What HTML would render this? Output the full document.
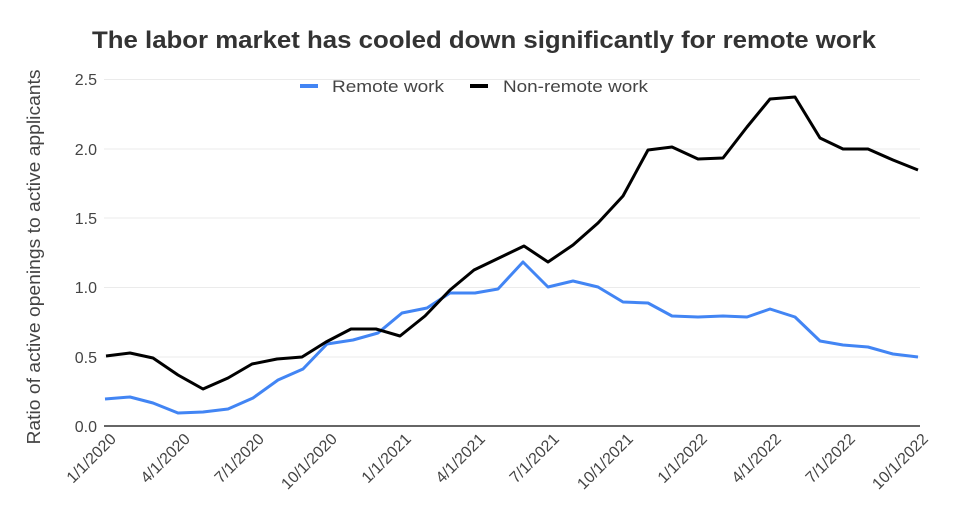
<!DOCTYPE html>
<html><head><meta charset="utf-8"><style>body{margin:0;background:#fff}svg{display:block}text{font-family:"Liberation Sans",Arial,sans-serif}</style></head>
<body>
<svg width="959" height="513" viewBox="0 0 959 513">
<text x="92" y="48" font-size="24" font-weight="bold" fill="#333" textLength="784" lengthAdjust="spacingAndGlyphs">The labor market has cooled down significantly for remote work</text>
<g stroke="#ebebeb" stroke-width="1">
<line x1="104" x2="920" y1="357" y2="357"/><line x1="104" x2="920" y1="287.5" y2="287.5"/><line x1="104" x2="920" y1="218" y2="218"/><line x1="104" x2="920" y1="149" y2="149"/><line x1="104" x2="920" y1="79.5" y2="79.5"/>
</g>
<line x1="104" x2="920" y1="426" y2="426" stroke="#333" stroke-width="1.5"/>
<g font-size="16" fill="#444" text-anchor="end">
<text x="97" y="432">0.0</text><text x="97" y="363">0.5</text><text x="97" y="293">1.0</text><text x="97" y="224">1.5</text><text x="97" y="155">2.0</text><text x="97" y="85">2.5</text>
</g>
<text transform="translate(40,257) rotate(-90)" text-anchor="middle" font-size="18" fill="#444" textLength="375" lengthAdjust="spacingAndGlyphs">Ratio of active openings to active applicants</text>
<g font-size="16" fill="#444" text-anchor="end">
<text transform="translate(117,440) rotate(-45)">1/1/2020</text>
<text transform="translate(191,440) rotate(-45)">4/1/2020</text>
<text transform="translate(265,440) rotate(-45)">7/1/2020</text>
<text transform="translate(338,440) rotate(-45)">10/1/2020</text>
<text transform="translate(412,440) rotate(-45)">1/1/2021</text>
<text transform="translate(486,440) rotate(-45)">4/1/2021</text>
<text transform="translate(560,440) rotate(-45)">7/1/2021</text>
<text transform="translate(634,440) rotate(-45)">10/1/2021</text>
<text transform="translate(708,440) rotate(-45)">1/1/2022</text>
<text transform="translate(782,440) rotate(-45)">4/1/2022</text>
<text transform="translate(856,440) rotate(-45)">7/1/2022</text>
<text transform="translate(929,440) rotate(-45)">10/1/2022</text>
</g>
<line x1="300" x2="318" y1="86" y2="86" stroke="#4285f4" stroke-width="4"/>
<text x="332" y="92" font-size="17" fill="#444" textLength="112" lengthAdjust="spacingAndGlyphs">Remote work</text>
<line x1="470" x2="488" y1="86" y2="86" stroke="#000" stroke-width="4"/>
<text x="503" y="92" font-size="17" fill="#444" textLength="145" lengthAdjust="spacingAndGlyphs">Non-remote work</text>
<polyline fill="none" stroke="#4285f4" stroke-width="3" stroke-linejoin="round" points="105,399 130,397 153,403 178,413 203,412 228,409 253,398 278,380 303,369 327,344 353,340 378,333 402,313 427,308 450,293 475,293 498,289 523,262 548,287 573,281 598,287 623,302 648,303 672,316 698,317 723,316 747,317 770,309 795,317 820,341 843,345 868,347 893,354 918,357"/>
<polyline fill="none" stroke="#000" stroke-width="3" stroke-linejoin="round" points="106,356 130,353 153,358 178,375 203,389 228,378 252,364 277,359 302,357 326,342 351,329 376,329 400,336 425,316 450,290 474,270 499,258 524,246 548,262 573,245 598,223 623,196 648,150 672,147 698,159 723,158 747,127 770,99 795,97 820,138 843,149 868,149 893,160 918,170"/>
</svg>
</body></html>
